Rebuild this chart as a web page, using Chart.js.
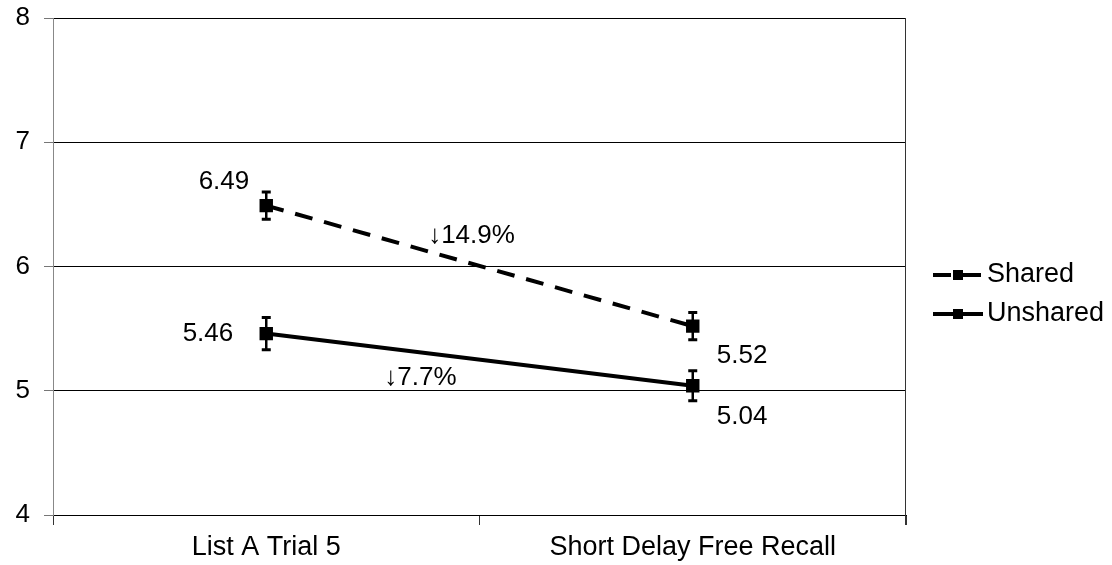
<!DOCTYPE html>
<html>
<head>
<meta charset="utf-8">
<script src="https://cdn.jsdelivr.net/npm/chart.js@4"></script>
<style>
  html, body { margin: 0; padding: 0; background: #fff; }
  #wrap { width: 1112px; height: 565px; position: relative; }
</style>
</head>
<body>
<div id="wrap"><canvas id="c"></canvas></div>
<script>
const categories = ["List A Trial 5", "Short Delay Free Recall"];
const seriesNames = ["Shared", "Unshared"];
const sharedValues = [6.49, 5.52];
const unsharedValues = [5.46, 5.04];
const sharedErrors = [0.11, 0.11];
const unsharedErrors = [0.13, 0.12];
const changeLabels = ["\u219314.9%", "\u21937.7%"];

const FONT = "'Liberation Sans', Arial, sans-serif";

const errorBarPlugin = {
  id: 'errorBars',
  afterDatasetsDraw(chart) {
    const ctx = chart.ctx;
    const ys = chart.scales.y;
    chart.data.datasets.forEach((ds, di) => {
      const meta = chart.getDatasetMeta(di);
      ds.errors.forEach((e, i) => {
        const pt = meta.data[i];
        const v = ds.data[i];
        const yTop = ys.getPixelForValue(v + e);
        const yBot = ys.getPixelForValue(v - e);
        ctx.save();
        ctx.strokeStyle = '#000';
        ctx.lineWidth = 2.5;
        ctx.beginPath();
        ctx.moveTo(pt.x, yTop); ctx.lineTo(pt.x, yBot);
        ctx.stroke();
        ctx.lineWidth = 3;
        ctx.beginPath();
        ctx.moveTo(pt.x - 4.5, yTop); ctx.lineTo(pt.x + 4.5, yTop);
        ctx.moveTo(pt.x - 4.5, yBot); ctx.lineTo(pt.x + 4.5, yBot);
        ctx.stroke();
        ctx.restore();
      });
    });
  }
};

const annotationPlugin = {
  id: 'annots',
  afterDraw(chart) {
    const ctx = chart.ctx;
    const ca = chart.chartArea;
    const sMeta = chart.getDatasetMeta(0);
    const uMeta = chart.getDatasetMeta(1);
    ctx.save();
    ctx.fillStyle = '#000';
    ctx.font = '26px ' + FONT;
    ctx.textBaseline = 'middle';
    ctx.textAlign = 'right';
    ctx.fillText(sharedValues[0].toFixed(2), sMeta.data[0].x - 17, sMeta.data[0].y - 24);
    ctx.fillText(unsharedValues[0].toFixed(2), uMeta.data[0].x - 33, uMeta.data[0].y);
    ctx.textAlign = 'left';
    ctx.fillText(sharedValues[1].toFixed(2), sMeta.data[1].x + 24, sMeta.data[1].y + 30);
    ctx.fillText(unsharedValues[1].toFixed(2), uMeta.data[1].x + 24, uMeta.data[1].y + 31);
    ctx.textAlign = 'center';
    const midX = (sMeta.data[0].x + sMeta.data[1].x) / 2;
    const sMidY = (sMeta.data[0].y + sMeta.data[1].y) / 2;
    const uMidY = (uMeta.data[0].y + uMeta.data[1].y) / 2;
    ctx.fillText(changeLabels[0], midX - 8, sMidY - 30);
    ctx.fillText(changeLabels[1], midX - 59, uMidY + 18);

    ctx.strokeStyle = '#333';
    ctx.lineWidth = 1;
    ctx.beginPath();
    ctx.moveTo(ca.right - 0.5, ca.top);
    ctx.lineTo(ca.right - 0.5, ca.bottom + 10);
    ctx.stroke();

    const lx0 = ca.right + 27, lx1 = ca.right + 77, sqX = ca.right + 52;
    const rows = [275, 314];
    chart.data.datasets.forEach((ds, di) => {
      const y = rows[di];
      ctx.strokeStyle = '#000';
      ctx.lineWidth = 4;
      ctx.setLineDash(ds.borderDash || []);
      ctx.beginPath();
      ctx.moveTo(lx0, y); ctx.lineTo(lx1, y);
      ctx.stroke();
      ctx.setLineDash([]);
      ctx.fillStyle = '#000';
      ctx.fillRect(sqX - 5, y - 5, 10, 10);
      ctx.font = '27px ' + FONT;
      ctx.textAlign = 'left';
      ctx.textBaseline = 'middle';
      ctx.fillText(ds.label, ca.right + 81, y);
    });
    ctx.restore();
  }
};

new Chart(document.getElementById('c'), {
  type: 'line',
  data: {
    labels: categories,
    datasets: [
      {
        label: seriesNames[0],
        data: sharedValues,
        errors: sharedErrors,
        borderColor: '#000',
        backgroundColor: '#000',
        borderWidth: 4,
        borderDash: [18, 12],
        pointStyle: 'rect',
        pointRadius: 9.5,
        pointBackgroundColor: '#000',
        pointBorderColor: '#000',
        pointBorderWidth: 0,
        tension: 0
      },
      {
        label: seriesNames[1],
        data: unsharedValues,
        errors: unsharedErrors,
        borderColor: '#000',
        backgroundColor: '#000',
        borderWidth: 4,
        pointStyle: 'rect',
        pointRadius: 9.5,
        pointBackgroundColor: '#000',
        pointBorderColor: '#000',
        pointBorderWidth: 0,
        tension: 0
      }
    ]
  },
  options: {
    responsive: true,
    maintainAspectRatio: false,
    animation: false,
    layout: { padding: { top: 18, right: 206, left: 0, bottom: 0 } },
    plugins: { legend: { display: false }, tooltip: { enabled: false } },
    scales: {
      x: {
        type: 'category',
        offset: true,
        grid: { offset: true, drawOnChartArea: false, drawTicks: true, tickLength: 10, color: '#333', lineWidth: 1 },
        border: { display: true, color: '#000', width: 1 },
        ticks: { color: '#000', font: { family: FONT, size: 27 }, padding: 6, maxRotation: 0 },
        afterFit(scale) { scale.height = 50; scale.paddingLeft = 0; scale.paddingRight = 0; }
      },
      y: {
        min: 4, max: 8,
        ticks: { stepSize: 1, color: '#000', font: { family: FONT, size: 26 }, padding: 14 },
        grid: { color: '#000', lineWidth: 1, drawTicks: true, tickLength: 9, tickColor: '#777' },
        border: { display: true, color: '#888', width: 1 },
        afterFit(scale) { scale.width = 53; scale.paddingTop = 0; scale.paddingBottom = 0; }
      }
    }
  },
  plugins: [errorBarPlugin, annotationPlugin]
});
</script>
</body>
</html>
